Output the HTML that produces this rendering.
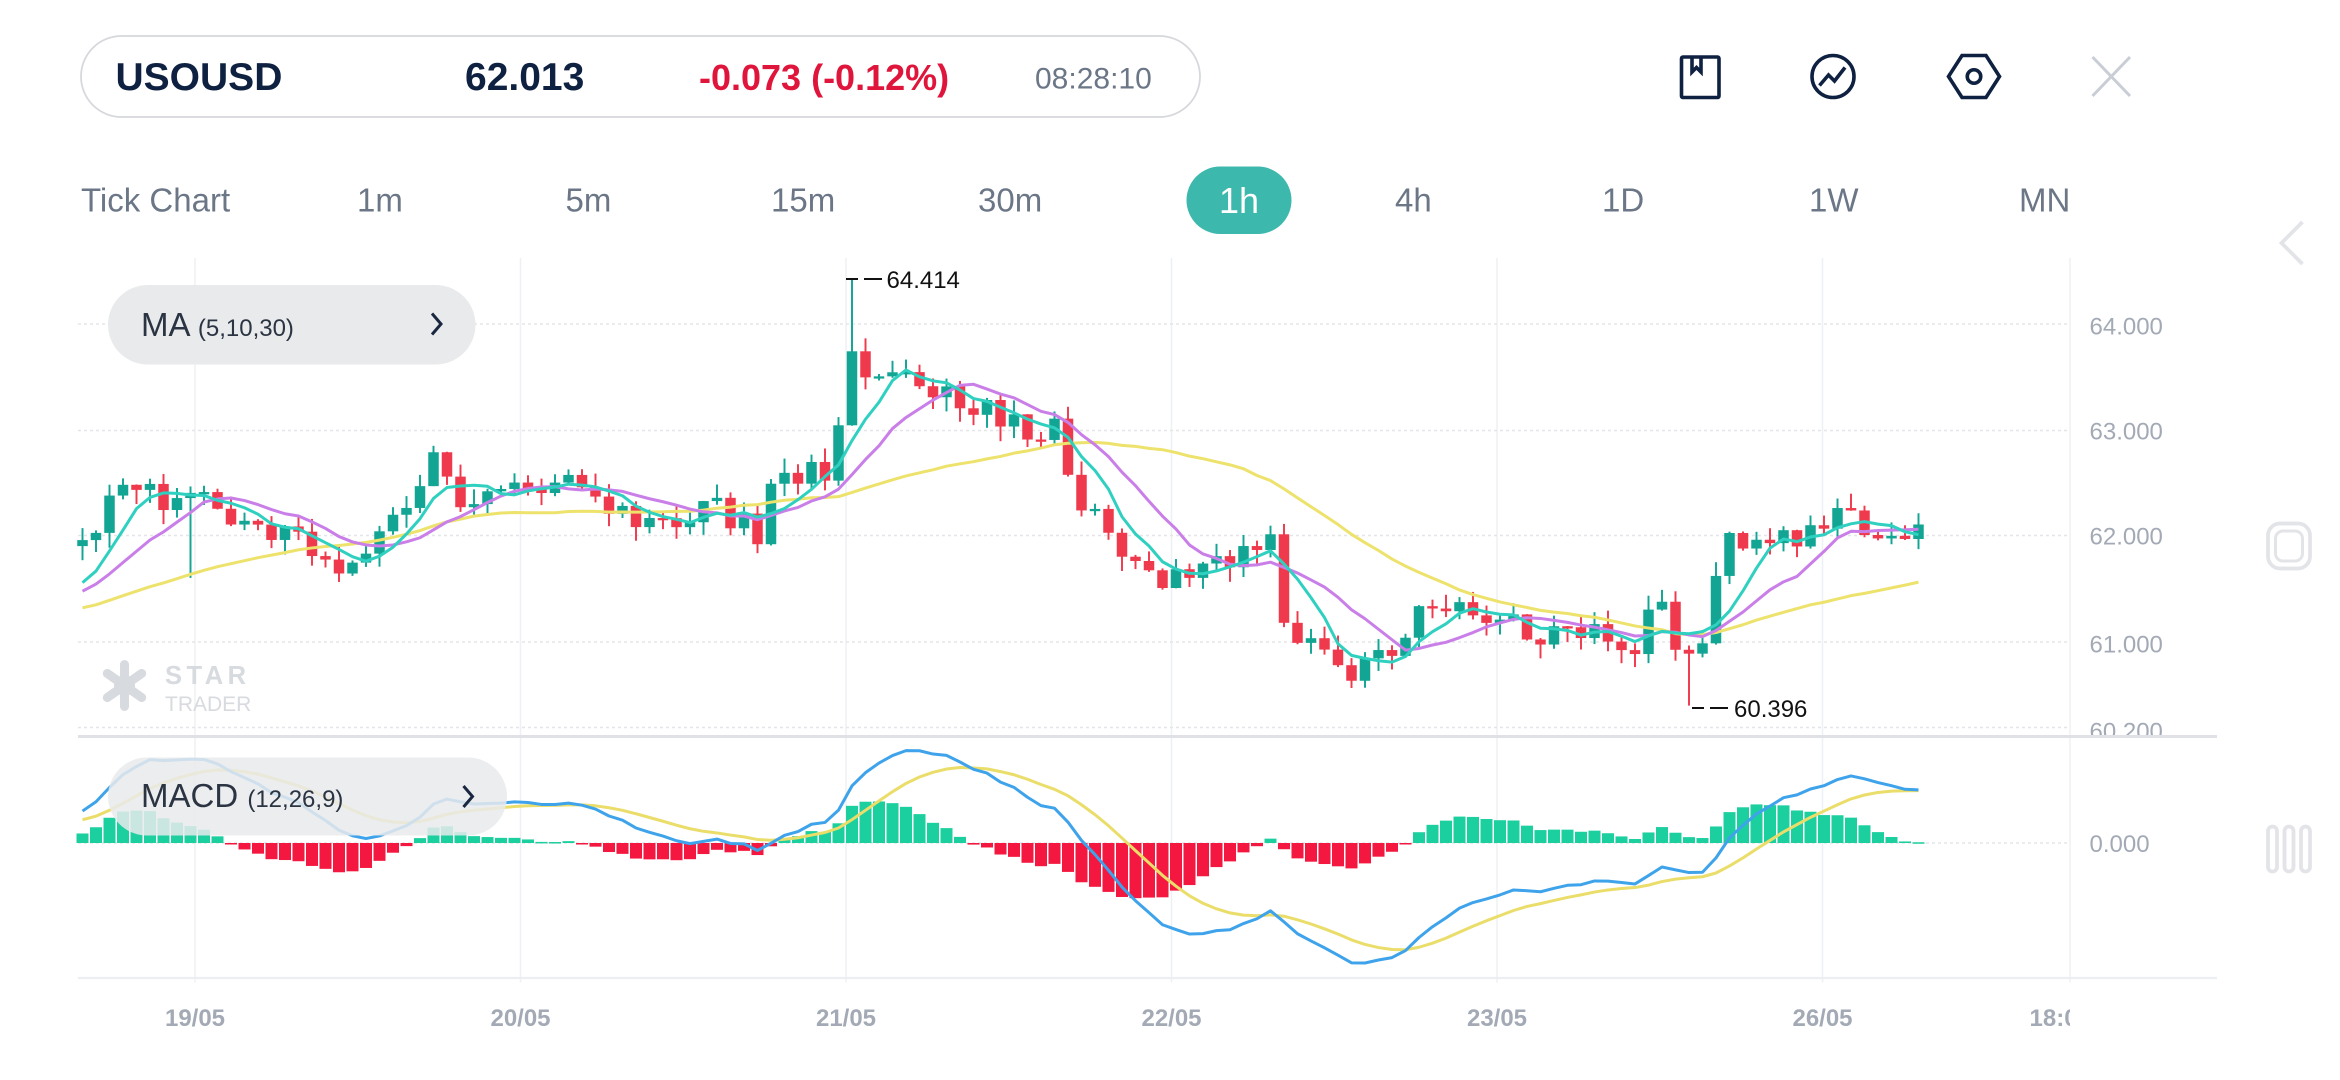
<!DOCTYPE html>
<html><head><meta charset="utf-8">
<style>
html,body{margin:0;padding:0;background:#fff;width:2340px;height:1080px;overflow:hidden}
svg{display:block}
text{font-family:"Liberation Sans",sans-serif}
</style></head>
<body>
<svg id="s" width="2340" height="1080" viewBox="0 0 1560 720" xmlns="http://www.w3.org/2000/svg">
<rect width="1560" height="720" fill="#fff"/>
<rect x="54" y="24" width="746" height="54" rx="27" fill="#fff" stroke="#d6d8dc" stroke-width="1.2"/>
<text x="77" y="60" font-size="26" font-weight="bold" fill="#0f2140">USOUSD</text>
<text x="310" y="60" font-size="26" font-weight="bold" fill="#0f2140">62.013</text>
<text x="466" y="60" font-size="24" font-weight="bold" fill="#e0153c">-0.073 (-0.12%)</text>
<text x="690" y="59" font-size="20" fill="#6b7686">08:28:10</text>
<g stroke="#0f2140" stroke-width="2.4" fill="none">
<rect x="1121" y="38" width="25" height="27" rx="1"/>
<path d="M1128 38 v10 l3 -3 l3 3 v-10"/>
<circle cx="1222" cy="51" r="14"/>
<path d="M1213 57 l6 -7 l4 4 l7 -9"/>
<path d="M1308 37 h16 l9 14 l-9 14 h-16 l-9 -14 z"/>
<circle cx="1316" cy="51" r="4.5"/>
</g>
<path d="M1395 38 l25 26 M1420 38 l-25 26" stroke="#c9ced6" stroke-width="2"/>
<g font-size="22" fill="#6b7686">
<text x="54" y="141">Tick Chart</text>
<text x="238" y="141">1m</text>
<text x="377" y="141">5m</text>
<text x="514" y="141">15m</text>
<text x="652" y="141">30m</text>
<text x="930" y="141">4h</text>
<text x="1068" y="141">1D</text>
<text x="1206" y="141">1W</text>
<text x="1346" y="141">MN</text>
</g>
<rect x="791" y="111" width="70" height="45" rx="22.5" fill="#3db8ad"/>
<text x="826" y="142" font-size="24" fill="#fff" text-anchor="middle">1h</text>
<path d="M1535 148 l-14 14 l14 14" stroke="#e2e4e8" stroke-width="2.5" fill="none"/>
<rect x="1512" y="349" width="28" height="30" rx="8" stroke="#e2e4e8" stroke-width="2.5" fill="none"/>
<rect x="1517" y="354" width="18" height="20" rx="5" stroke="#e2e4e8" stroke-width="2" fill="none"/>
<g stroke="#e2e4e8" stroke-width="2.5" fill="none"><rect x="1512" y="551" width="6" height="30" rx="3"/><rect x="1523" y="551" width="6" height="30" rx="3"/><rect x="1534" y="551" width="6" height="30" rx="3"/></g>
<g stroke="#eef0f3" stroke-width="1">
<line x1="130" y1="172" x2="130" y2="655"/><line x1="347" y1="172" x2="347" y2="655"/>
<line x1="564" y1="172" x2="564" y2="655"/><line x1="781" y1="172" x2="781" y2="655"/>
<line x1="998" y1="172" x2="998" y2="655"/><line x1="1215" y1="172" x2="1215" y2="655"/>
<line x1="1380" y1="172" x2="1380" y2="655"/>
</g>
<g stroke="#e3e5e9" stroke-width="1" stroke-dasharray="2,2">
<line x1="52" y1="216" x2="1380" y2="216"/><line x1="52" y1="287" x2="1380" y2="287"/>
<line x1="52" y1="357" x2="1380" y2="357"/><line x1="52" y1="428" x2="1380" y2="428"/>
<line x1="52" y1="485" x2="1380" y2="485"/><line x1="52" y1="562" x2="1380" y2="562"/>
</g>
<g font-size="16" fill="#a3aab5">
<text x="1393" y="223">64.000</text><text x="1393" y="293">63.000</text>
<text x="1393" y="363">62.000</text><text x="1393" y="435">61.000</text>
<text x="1393" y="568">0.000</text>
</g>
<svg x="1380" y="470" width="100" height="21" overflow="hidden"><text x="13" y="23" font-size="16" fill="#a3aab5">60.200</text></svg>
<line x1="52" y1="491" x2="1478" y2="491" stroke="#dfe1e6" stroke-width="2"/>
<line x1="52" y1="652" x2="1478" y2="652" stroke="#eceef1" stroke-width="1.5"/>
<g font-size="16" fill="#a3aab5" font-weight="bold" text-anchor="middle">
<text x="130" y="684">19/05</text><text x="347" y="684">20/05</text><text x="564" y="684">21/05</text>
<text x="781" y="684">22/05</text><text x="998" y="684">23/05</text><text x="1215" y="684">26/05</text>
</g>
<svg x="1340" y="660" width="40" height="35"><text x="13" y="24" font-size="16" fill="#a3aab5" font-weight="bold">18:00</text></svg>
<g fill="#d7dade">
<circle cx="83" cy="457" r="7"/><rect x="80" y="440" width="6" height="34" rx="3"/>
<rect x="66" y="454" width="34" height="6" rx="3" transform="rotate(35 83 457)"/>
<rect x="66" y="454" width="34" height="6" rx="3" transform="rotate(-35 83 457)"/>
</g>
<text x="110" y="456" font-size="17" font-weight="bold" fill="#d7dade" letter-spacing="3">STAR</text>
<text x="110" y="474" font-size="14" fill="#d7dade">TRADER</text>
<g id="plot"></g>
<rect x="72" y="190" width="245" height="53" rx="26.5" fill="#e9eaec"/>
<text x="94" y="224" font-size="22" fill="#2b3442">MA <tspan font-size="16">(5,10,30)</tspan></text>
<path d="M288 209 l6 7 l-6 7" stroke="#1a2740" stroke-width="2" fill="none"/>
<rect x="72" y="505" width="266" height="52" rx="26" fill="#e9eaec" fill-opacity="0.85"/>
<text x="94" y="538" font-size="22" fill="#2b3442">MACD <tspan font-size="16">(12,26,9)</tspan></text>
<path d="M309 524 l6 7 l-6 7" stroke="#1a2740" stroke-width="2" fill="none"/>
<path d="M564 186 h8 M576 186 h12" stroke="#111" stroke-width="1.3"/>
<text x="591" y="192" font-size="16" fill="#111">64.414</text>
<path d="M1128 472 h8 M1140 472 h12" stroke="#111" stroke-width="1.3"/>
<text x="1156" y="478" font-size="16" fill="#111">60.396</text>
</svg>
<script>
(function(){
var wp=[[55,61.9],[80,62.4],[100,62.4],[130,62.3],[160,62.2],[200,61.9],[240,61.6],[262,62.2],[295,62.8],[310,62.2],[340,62.5],[380,62.5],[430,62.1],[470,62.3],[505,62.0],[520,62.6],[555,62.6],[564,63.8],[580,63.4],[600,63.5],[625,63.4],[640,63.1],[660,63.2],[690,63.0],[703,63.1],[715,62.5],[740,61.9],[770,61.6],[800,61.6],[820,61.8],[850,62.0],[858,60.9],[870,61.1],[890,60.8],[905,60.7],[930,61.0],[950,61.3],[975,61.5],[990,61.2],[1020,61.1],[1060,61.1],[1090,61.0],[1110,61.5],[1120,60.7],[1130,60.8],[1140,61.3],[1150,61.9],[1180,61.9],[1210,62.0],[1222,62.3],[1245,62.0],[1282,62.01]];
function interp(x){for(var i=0;i<wp.length-1;i++){if(x<=wp[i+1][0]){var t=(x-wp[i][0])/(wp[i+1][0]-wp[i][0]);return wp[i][1]+t*(wp[i+1][1]-wp[i][1]);}}return wp[wp.length-1][1];}
var seed=11;function rnd(){seed=(seed*16807)%2147483647;return seed/2147483647;}
var Y=function(p){return 357-(p-62)*70.7;};
var xs=[],cl=[],op=[],hi=[],lo=[];
var warm=[];for(var k=0;k<40;k++)warm.push(61.0+k*0.012+(rnd()-0.5)*0.1);
var prev=61.9;
for(var x=55;x<=1282;x+=9){var c=interp(x)+(rnd()-0.5)*0.26;var o=prev;
if(x==1282)c=62.013;
var h=Math.max(o,c)+rnd()*0.14,l=Math.min(o,c)-rnd()*0.14;
if(Math.abs(x-127)<5)l=61.6;
if(Math.abs(x-564)<5)h=64.414;
if(Math.abs(x-1127)<5)l=60.396;
xs.push(x);cl.push(c);op.push(o);hi.push(h);lo.push(l);prev=c;}
var all=warm.concat(cl),W=warm.length;
function sma(n,i){var s=0;for(var j=i-n+1;j<=i;j++)s+=all[j];return s/n;}
var out='';
function line(arr,col,w){var d='';for(var i=0;i<arr.length;i++)d+=(i?'L':'M')+arr[i][0].toFixed(1)+' '+arr[i][1].toFixed(1);return '<path d="'+d+'" stroke="'+col+'" stroke-width="'+w+'" fill="none" stroke-linejoin="round"/>';}
function ema(src,n){var a=2/(n+1),r=[],e=src[0];for(var i=0;i<src.length;i++){e=i?a*src[i]+(1-a)*e:src[i];r.push(e);}return r;}
var e12=ema(all,12),e26=ema(all,26),m=[];for(var i=0;i<all.length;i++)m.push(e12[i]-e26[i]);
var sg=ema(m,9);var mx=0;for(var i=W;i<all.length;i++)mx=Math.max(mx,Math.abs(m[i]));
var sc=80/mx,Z=562;var bars='',mb=[],sb=[];
for(var i=0;i<xs.length;i++){var j=i+W,h=(m[j]-sg[j])*sc*1.1;var col=h>=0?'#1ccf9e':'#f4173f';
bars+='<rect x="'+(xs[i]-4)+'" y="'+(h>=0?Z-h:Z)+'" width="8" height="'+Math.max(1,Math.abs(h))+'" fill="'+col+'"/>';
mb.push([xs[i],Z-m[j]*sc]);sb.push([xs[i],Z-sg[j]*sc]);}
out+=bars+line(sb,'#eadd6a',2)+line(mb,'#3ea3ea',2);
for(var i=0;i<xs.length;i++){var up=cl[i]>=op[i],col=up?'#12a594':'#ef3a4d';
out+='<line x1="'+xs[i]+'" y1="'+Y(hi[i])+'" x2="'+xs[i]+'" y2="'+Y(lo[i])+'" stroke="'+col+'" stroke-width="1.3"/>';
var t=Y(Math.max(op[i],cl[i])),b=Y(Math.min(op[i],cl[i]));
out+='<rect x="'+(xs[i]-3.5)+'" y="'+t+'" width="7" height="'+Math.max(1.5,b-t)+'" fill="'+col+'"/>';}
var m5=[],m10=[],m30=[];for(var i=0;i<xs.length;i++){var j=i+W;m5.push([xs[i],Y(sma(5,j))]);m10.push([xs[i],Y(sma(10,j))]);m30.push([xs[i],Y(sma(30,j))]);}
out+=line(m30,'#ede26c',2)+line(m10,'#c97ee8',2)+line(m5,'#2fd0c0',2);
document.getElementById('plot').innerHTML=out;
})();
</script>
</body></html>
